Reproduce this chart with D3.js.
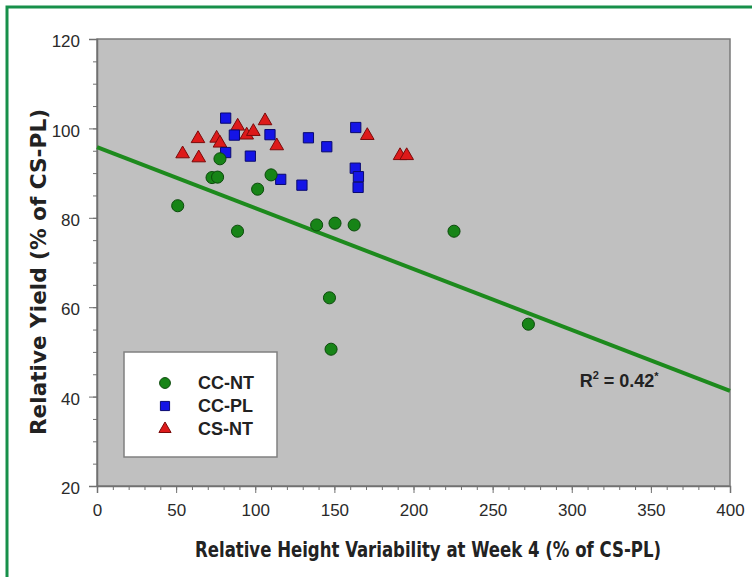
<!DOCTYPE html>
<html>
<head>
<meta charset="utf-8">
<script src="https://cdn.jsdelivr.net/npm/d3@7"></script>
<style>
  body { margin: 0; background: #fff; }
  svg { display: block; }
</style>
</head>
<body>
<div id="chart"></div>
<script>
// series values
const ccNtX = [51, 72.7, 76.2, 77.7, 88.8, 101.5, 110, 138.8, 150.4, 162.5, 225.6, 146.9, 147.9, 272.6];
const ccNtY = [82.7, 89, 89.1, 93.2, 77, 86.4, 89.6, 78.4, 78.8, 78.4, 77, 62.1, 50.6, 56.2];

const ccPlX = [81.3, 86.8, 81.3, 96.9, 109.3, 116.1, 129.5, 133.6, 145.2, 163.5, 163.2, 165.2, 165];
const ccPlY = [102.3, 98.5, 94.6, 93.8, 98.6, 88.6, 87.3, 97.9, 95.9, 100.2, 91.1, 89.2, 86.8];

const csNtX = [54.1, 63.8, 64.3, 75.6, 77.7, 88.9, 94.6, 98.8, 106.2, 113.6, 170.8, 191.5, 195.7];
const csNtY = [94.3, 97.7, 93.4, 97.8, 96.7, 100.5, 98.5, 99.3, 101.7, 96.1, 98.4, 93.9, 93.9];

// linear fit drawn on the chart
const fitIntercept = 95.8;
const fitSlope = -0.1363;

const xTicks = [0, 50, 100, 150, 200, 250, 300, 350, 400];
const yTicks = [20, 40, 60, 80, 100, 120];
const seriesNames = ["CC-NT", "CC-PL", "CS-NT"];

const width = 752, height = 577;
const margin = { top: 39, right: 22, bottom: 91, left: 97 };
const innerW = width - margin.left - margin.right;
const innerH = height - margin.top - margin.bottom;

const svg = d3.select("#chart").append("svg")
  .attr("width", width)
  .attr("height", height);

// green frame around the figure
svg.append("rect")
  .attr("x", 7).attr("y", 7)
  .attr("width", width + 20).attr("height", height + 20)
  .attr("fill", "#fff")
  .attr("stroke", "#17904a")
  .attr("stroke-width", 3);

const g = svg.append("g")
  .attr("transform", `translate(${margin.left},${margin.top})`);

const x = d3.scaleLinear().domain([0, 400]).range([0, innerW]);
const y = d3.scaleLinear().domain([20, 120]).range([innerH, 0]);

// plot area
g.append("rect")
  .attr("width", innerW).attr("height", innerH)
  .attr("fill", "#c0c0c0")
  .attr("stroke", "#7a7a7a")
  .attr("stroke-width", 1.5);

const tickFont = "Liberation Sans, Arial, sans-serif";

// minor ticks
g.append("g")
  .attr("transform", `translate(0,${innerH})`)
  .call(d3.axisBottom(x).tickValues(d3.range(0, 401, 10)).tickSize(4).tickFormat(""))
  .call(a => a.select(".domain").remove())
  .call(a => a.selectAll("line").attr("stroke", "#707070"));

g.append("g")
  .call(d3.axisLeft(y).tickValues(d3.range(20, 121, 5)).tickSize(4).tickFormat(""))
  .call(a => a.select(".domain").remove())
  .call(a => a.selectAll("line").attr("stroke", "#707070"));

// major ticks + labels
g.append("g")
  .attr("transform", `translate(0,${innerH})`)
  .call(d3.axisBottom(x).tickValues(xTicks).tickSize(7).tickPadding(11))
  .call(a => a.select(".domain").attr("stroke", "#707070").attr("stroke-width", 1.5))
  .call(a => a.selectAll("line").attr("stroke", "#707070"))
  .call(a => a.selectAll("text")
    .attr("font-family", tickFont).attr("font-size", 17).attr("fill", "#2a2a2a"));

g.append("g")
  .call(d3.axisLeft(y).tickValues(yTicks).tickSize(8).tickPadding(9))
  .call(a => a.select(".domain").attr("stroke", "#707070").attr("stroke-width", 1.5))
  .call(a => a.selectAll("line").attr("stroke", "#707070"))
  .call(a => a.selectAll("text")
    .attr("font-family", tickFont).attr("font-size", 17).attr("fill", "#2a2a2a")
    .attr("dy", "0.45em"));

// regression line
g.append("line")
  .attr("x1", x(0)).attr("y1", y(fitIntercept))
  .attr("x2", x(400)).attr("y2", y(fitIntercept + fitSlope * 400))
  .attr("stroke", "#1d8a1d")
  .attr("stroke-width", 4);

// marker shapes
const markers = {
  "CC-NT": { shape: d3.symbolCircle, size: 115, fill: "#178417", stroke: "#0b4a0b" },
  "CC-PL": { shape: d3.symbolSquare, size: 105, fill: "#1414e6", stroke: "#0a0a70" },
  "CS-NT": { shape: d3.symbolTriangle, size: 80, fill: "#dd1a1a", stroke: "#7a0a0a" }
};

const series = [
  { name: "CC-NT", xs: ccNtX, ys: ccNtY },
  { name: "CC-PL", xs: ccPlX, ys: ccPlY },
  { name: "CS-NT", xs: csNtX, ys: csNtY }
];

// draw in reverse so circles end up on top like the original
series.slice().reverse().forEach(s => {
  const m = markers[s.name];
  g.append("g").selectAll("path")
    .data(s.xs.map((v, i) => [v, s.ys[i]]))
    .join("path")
    .attr("transform", d => `translate(${x(d[0])},${y(d[1])})`)
    .attr("d", d3.symbol().type(m.shape).size(m.size))
    .attr("fill", m.fill)
    .attr("stroke", m.stroke)
    .attr("stroke-width", 1);
});

// R squared label
const r2 = g.append("text")
  .attr("x", x(305)).attr("y", y(42.2))
  .attr("font-family", tickFont).attr("font-weight", "bold")
  .attr("font-size", 18).attr("fill", "#222");
r2.append("tspan").text("R");
r2.append("tspan").attr("font-size", 11).attr("dy", -8).text("2");
r2.append("tspan").attr("dy", 8).text(" = 0.42");
r2.append("tspan").attr("font-size", 11).attr("dy", -7).text("*");

// legend
const legend = svg.append("g").attr("transform", "translate(124,352)");
legend.append("rect")
  .attr("width", 153).attr("height", 105)
  .attr("fill", "#fff")
  .attr("stroke", "#808080")
  .attr("stroke-width", 1.5);

seriesNames.forEach((name, i) => {
  const m = markers[name];
  const row = legend.append("g").attr("transform", `translate(0,${31 + i * 23})`);
  row.append("path")
    .attr("transform", "translate(41,0)")
    .attr("d", d3.symbol().type(m.shape).size(m.size * 0.8))
    .attr("fill", m.fill)
    .attr("stroke", m.stroke)
    .attr("stroke-width", 1);
  row.append("text")
    .attr("x", 74).attr("dy", "0.36em")
    .attr("font-family", tickFont).attr("font-weight", "bold")
    .attr("font-size", 18).attr("fill", "#222")
    .text(name);
});

// axis titles
const titleFont = "Liberation Sans Narrow, DejaVu Sans Condensed, Arial, sans-serif";

svg.append("text")
  .attr("x", 428).attr("y", 557)
  .attr("text-anchor", "middle")
  .attr("font-family", titleFont).attr("font-weight", "bold")
  .attr("font-size", 22).attr("fill", "#222")
  .attr("textLength", 466).attr("lengthAdjust", "spacingAndGlyphs")
  .text("Relative Height Variability at Week 4 (% of CS-PL)");

svg.append("text")
  .attr("transform", "translate(46,272) rotate(-90)")
  .attr("text-anchor", "middle")
  .attr("font-family", titleFont).attr("font-weight", "bold")
  .attr("font-size", 22).attr("fill", "#222")
  .attr("textLength", 326).attr("lengthAdjust", "spacingAndGlyphs")
  .text("Relative Yield (% of CS-PL)");
</script>
</body>
</html>
